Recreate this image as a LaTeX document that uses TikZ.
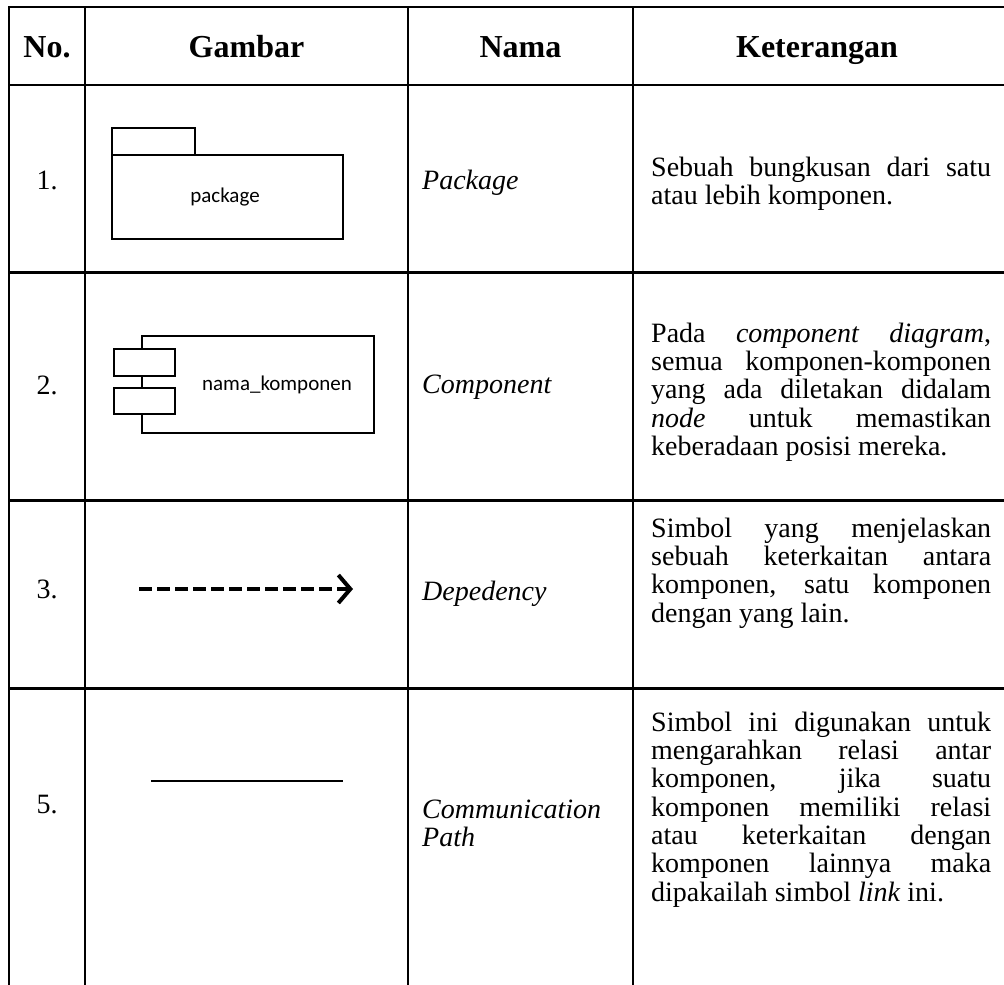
\documentclass[tikz,border=0pt]{standalone}
\usepackage{fontspec}
\setmainfont{Liberation Serif}
\newfontfamily\symfont{Carlito}
\usetikzlibrary{arrows.meta}

\newcommand\bodyfont{\fontsize{28}{28.3}\selectfont}
\newcommand\headfont{\fontsize{32}{34}\selectfont\bfseries}

\tikzset{
  grid/.style={line width=2.4pt, line cap=rect},
  shape line/.style={line width=2.4pt, line join=miter},
  head/.style={anchor=base, inner sep=0pt, font=\headfont},
  num/.style={anchor=base, inner sep=0pt, font=\bodyfont},
  term/.style={anchor=base west, inner sep=0pt, font=\bodyfont\itshape},
  descr/.style={anchor=north west, inner sep=0pt, text width=340pt,
                align=justify, font=\bodyfont},
  symlabel/.style={inner sep=0pt, font=\fontsize{21}{24}\selectfont\symfont},
}

\begin{document}
\begin{tikzpicture}[x=1pt, y=-1pt]
  \useasboundingbox (0,0) rectangle (1004,985);
  \fill[white] (0,0) rectangle (1004,985);

  % table rules
  \draw[grid] (9,7) -- (1010,7);
  \draw[grid] (9,85) -- (1010,85);
  \draw[grid] (9,272.5) -- (1010,272.5);
  \draw[grid] (9,500.5) -- (1010,500.5);
  \draw[grid] (9,688.5) -- (1010,688.5);
  \draw[grid] (9,7) -- (9,990);
  \draw[grid] (85,7) -- (85,990);
  \draw[grid] (408,7) -- (408,990);
  \draw[grid] (633,7) -- (633,990);

  % header
  \node[head] (hno)  at (47,57)    {No.};
  \node[head] (hgb)  at (246.5,57) {Gambar};
  \node[head] (hnm)  at (520.5,57) {Nama};
  \node[head] (hket) at (817,57)   {Keterangan};

  % row 1: package
  \node[num] (n1) at (47,189) {1.};
  \draw[shape line] (112,128) rectangle (195,155);
  \draw[shape line] (112,155) rectangle (343,239);
  \node[symlabel] (pkg) at (225,197) {package};
  \node[term] (t1) at (422,189) {Package};
  \node[descr] (d1) at (651,156.2) {\strut Sebuah bungkusan dari satu\linebreak
    atau lebih komponen.};

  % row 2: component
  \node[num] (n2) at (47,394) {2.};
  \draw[shape line] (142,336) rectangle (374,433);
  \draw[shape line, fill=white] (114,349) rectangle (175,376);
  \draw[shape line, fill=white] (114,388) rectangle (175,414);
  \node[symlabel] (cmp) at (277,385) {nama\_komponen};
  \node[term] (t2) at (422,393) {Component};
  \node[descr] (d2) at (651,322.2) {\strut Pada \textit{component diagram},\linebreak
    semua komponen-komponen\linebreak
    yang ada diletakan didalam\linebreak
    \textit{node} untuk memastikan\linebreak
    keberadaan posisi mereka.};

  % row 3: dependency
  \node[num] (n3) at (47,598) {3.};
  \coordinate (depA) at (139,589);
  \coordinate (depB) at (353,589);
  \draw[line width=4pt, dash pattern=on 13pt off 5pt,
        -{Straight Barb[length=12pt, width=28pt]}] (depA) -- (depB);
  \node[term] (t3) at (422,600) {Depedency};
  \node[descr] (d3) at (651,517.2) {\strut Simbol yang menjelaskan\linebreak
    sebuah keterkaitan antara\linebreak
    komponen, satu komponen\linebreak
    dengan yang lain.};

  % row 5: communication path
  \node[num] (n5) at (47,813) {5.};
  \coordinate (pathA) at (151,781);
  \coordinate (pathB) at (343,781);
  \draw[line width=2pt] (pathA) -- (pathB);
  \node[anchor=north west, inner sep=0pt, align=left, font=\bodyfont\itshape]
    (t5) at (422,798.2) {\strut Communication\\\strut Path};
  \node[descr] (d5) at (651,711.2) {\strut Simbol ini digunakan untuk\linebreak
    mengarahkan relasi antar\linebreak
    komponen, jika suatu\linebreak
    komponen memiliki relasi\linebreak
    atau keterkaitan dengan\linebreak
    komponen lainnya maka\linebreak
    dipakailah simbol \textit{link} ini.};
\end{tikzpicture}
\end{document}
